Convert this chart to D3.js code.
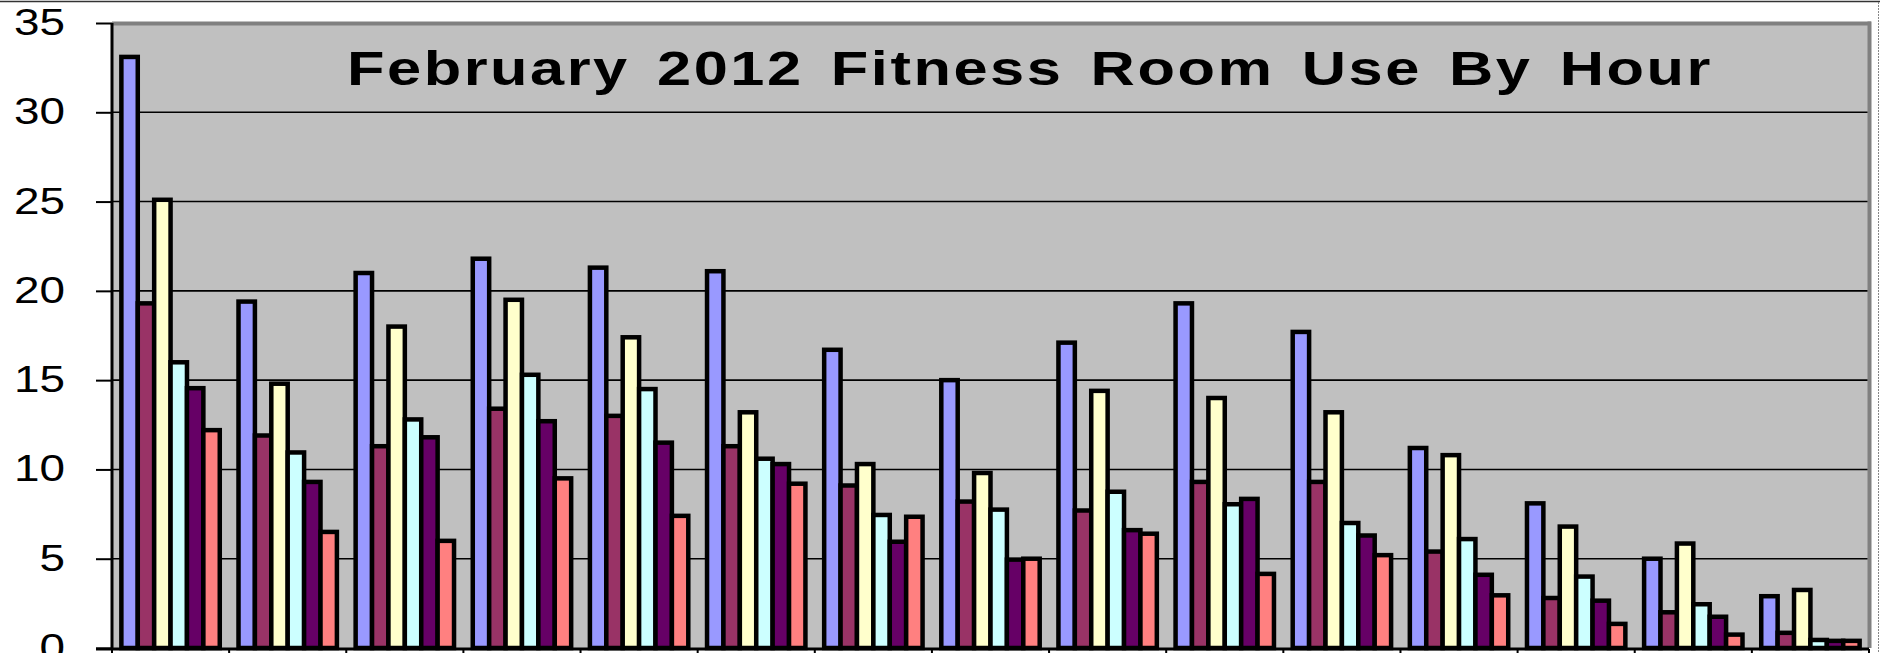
<!DOCTYPE html>
<html>
<head>
<meta charset="utf-8">
<script src="https://cdn.jsdelivr.net/npm/d3@7/dist/d3.min.js"></script>
<style>
  body { margin: 0; background: #fff; }
  svg { display: block; }
</style>
</head>
<body>
<script>
// hour groups along the x axis (their labels are cut off in the picture)
var hours = [1, 2, 3, 4, 5, 6, 7, 8, 9, 10, 11, 12, 13, 14, 15];

var seriesNames = ["s1", "s2", "s3", "s4", "s5", "s6"];
var seriesColors = ["#9999FF", "#993366", "#FFFFCC", "#CCFFFF", "#660066", "#FF8080"];

// one array per series, one value per hour group
var s1 = [33.1, 19.4, 21.0, 21.8, 21.3, 21.1, 16.7, 15.0, 17.1, 19.3, 17.7, 11.2, 8.1, 5.0, 2.9];
var s2 = [19.3, 11.9, 11.3, 13.4, 13.0, 11.3, 9.1, 8.2, 7.7, 9.3, 9.3, 5.4, 2.8, 2.0, 0.85];
var s3 = [25.1, 14.8, 18.0, 19.5, 17.4, 13.2, 10.3, 9.8, 14.4, 14.0, 13.2, 10.8, 6.8, 5.85, 3.25];
var s4 = [16.0, 10.95, 12.8, 15.3, 14.5, 10.6, 7.45, 7.75, 8.75, 8.05, 7.0, 6.1, 4.0, 2.45, 0.45];
var s5 = [14.55, 9.3, 11.8, 12.7, 11.5, 10.3, 5.95, 4.95, 6.6, 8.35, 6.3, 4.1, 2.65, 1.75, 0.4];
var s6 = [12.2, 6.5, 6.0, 9.5, 7.4, 9.2, 7.35, 5.0, 6.4, 4.15, 5.2, 2.95, 1.35, 0.75, 0.4];
var allSeries = [s1, s2, s3, s4, s5, s6];

var yTicks = [0, 5, 10, 15, 20, 25, 30, 35];
var titleText = "February 2012 Fitness Room Use By Hour";

function init() {
    var w = 1880;
    var h = 653;
    var left = 112, right = 1869, top = 23, bottom = 648;

    var svg = d3.select("body")
                .append("svg")
                .attr("width", w)
                .attr("height", h);

    var x = d3.scaleBand()
                .domain(hours)
                .range([left, right])
                .paddingInner(0.16)
                .paddingOuter(0.08);

    var xs = d3.scaleBand()
                .domain(seriesNames)
                .range([0, x.bandwidth()]);

    var y = d3.scaleLinear()
                .domain([0, 35])
                .range([bottom, top]);

    // outer frame of the chart object
    svg.append("line")
        .attr("x1", 0).attr("x2", w)
        .attr("y1", 1.5).attr("y2", 1.5)
        .style("stroke", "#333")
        .style("stroke-width", 1.5);
    svg.append("line")
        .attr("x1", 1878.5).attr("x2", 1878.5)
        .attr("y1", 2).attr("y2", h)
        .style("stroke", "#888")
        .style("stroke-width", 1)
        .style("stroke-dasharray", "2,1");

    // plot area
    svg.append("rect")
        .attr("x", left).attr("y", top)
        .attr("width", right - left).attr("height", bottom - top)
        .attr("fill", "#C0C0C0");
    svg.append("line")
        .attr("x1", left).attr("x2", right + 2)
        .attr("y1", top + 0.5).attr("y2", top + 0.5)
        .style("stroke", "#808080")
        .style("stroke-width", 4);
    svg.append("line")
        .attr("x1", right + 0.5).attr("x2", right + 0.5)
        .attr("y1", top - 1.5).attr("y2", bottom)
        .style("stroke", "#808080")
        .style("stroke-width", 4);

    // gridlines
    svg.selectAll(".grid")
        .data(yTicks.filter(function(d) { return d > 0 && d < 35; }))
        .enter()
        .append("line")
        .attr("class", "grid")
        .attr("x1", left).attr("x2", right - 1.5)
        .attr("y1", function(d) { return y(d); })
        .attr("y2", function(d) { return y(d); })
        .style("stroke", "#000")
        .style("stroke-width", 1.6);

    // title (glyphs are stretched wide in the original)
    svg.append("text")
        .attr("x", 1030)
        .attr("y", 85)
        .attr("text-anchor", "middle")
        .attr("textLength", 1366)
        .attr("lengthAdjust", "spacingAndGlyphs")
        .style("font-family", "'Liberation Sans', Arial, sans-serif")
        .style("font-weight", "bold")
        .style("font-size", "48px")
        .style("letter-spacing", "2px")
        .style("word-spacing", "6px")
        .text(titleText);

    // bars
    var groups = svg.selectAll(".hour")
        .data(hours)
        .enter()
        .append("g")
        .attr("class", "hour")
        .attr("transform", function(d) { return "translate(" + x(d) + ",0)"; });

    groups.selectAll("rect")
        .data(function(d, i) {
            return seriesNames.map(function(s, j) {
                return { key: s, value: allSeries[j][i], color: seriesColors[j] };
            });
        })
        .enter()
        .append("rect")
        .attr("x", function(d) { return xs(d.key); })
        .attr("y", function(d) { return y(d.value); })
        .attr("width", xs.bandwidth())
        .attr("height", function(d) { return bottom - y(d.value); })
        .attr("fill", function(d) { return d.color; })
        .style("stroke", "#000")
        .style("stroke-width", 4.5);

    // y axis
    var yAxis = svg.append("g")
        .attr("transform", "translate(" + left + ",0)")
        .call(d3.axisLeft(y).tickValues(yTicks).tickSize(16).tickPadding(31).tickSizeOuter(0));
    yAxis.select(".domain")
        .attr("d", "M0," + top + "V" + (bottom + 2))
        .style("stroke", "#000")
        .style("stroke-width", 3);
    yAxis.selectAll(".tick line")
        .style("stroke", "#000")
        .style("stroke-width", 2);
    yAxis.selectAll(".tick text")
        .style("font-family", "'Liberation Sans', Arial, sans-serif")
        .style("font-size", "36px")
        .attr("textLength", function(d) { return String(d).length * 25.5; })
        .attr("lengthAdjust", "spacingAndGlyphs")
        .attr("fill", "#000");

    // x axis, ticks between the hour groups
    var step = (right - left) / hours.length;
    var boundaries = d3.range(hours.length + 1).map(function(k) { return left + k * step; });
    svg.append("line")
        .attr("x1", left - 16).attr("x2", right)
        .attr("y1", bottom + 1).attr("y2", bottom + 1)
        .style("stroke", "#000")
        .style("stroke-width", 3);
    svg.selectAll(".xtick")
        .data(boundaries)
        .enter()
        .append("line")
        .attr("class", "xtick")
        .attr("x1", function(d) { return d; })
        .attr("x2", function(d) { return d; })
        .attr("y1", bottom + 1)
        .attr("y2", h)
        .style("stroke", "#000")
        .style("stroke-width", 2);
}

window.onload = init;
</script>
</body>
</html>
